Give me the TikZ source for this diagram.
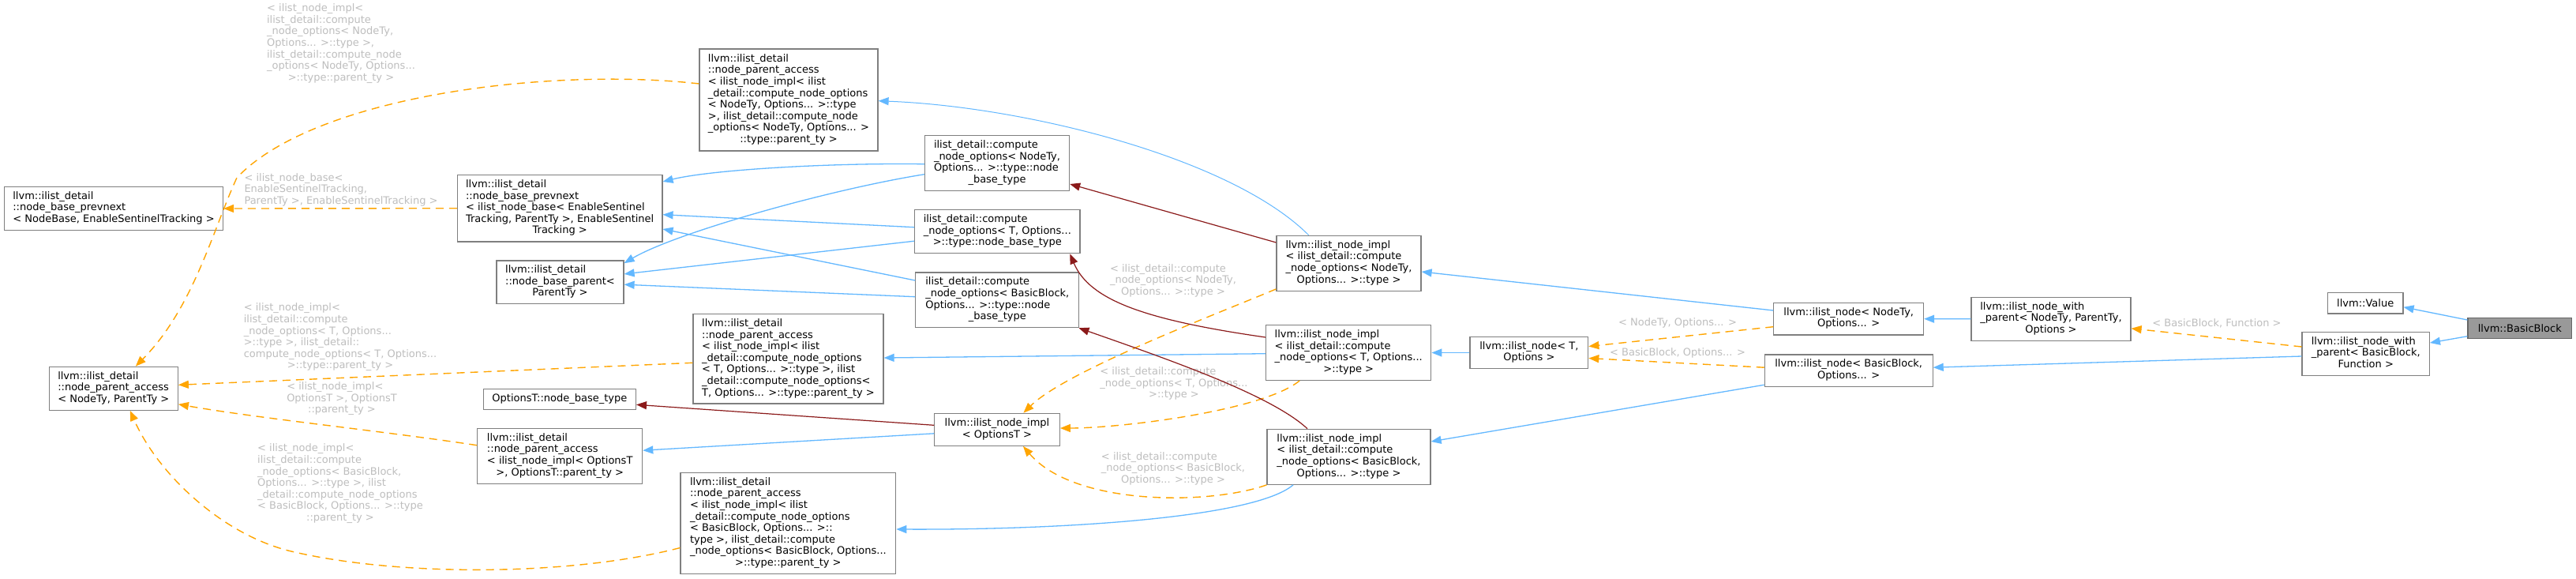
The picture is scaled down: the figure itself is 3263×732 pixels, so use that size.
\documentclass[tikz,border=0pt]{standalone}
\usepackage{fontspec}
\setmainfont{DejaVu Sans}
\usetikzlibrary{arrows.meta,calc}
\definecolor{edgeblue}{HTML}{63B8FF}
\definecolor{edgered}{HTML}{8B1A1A}
\definecolor{edgeorange}{HTML}{FFA500}
\definecolor{boxborder}{HTML}{7F7F7F}
\definecolor{lblgray}{HTML}{BEBEBE}
\definecolor{bbfill}{HTML}{999999}
\newcommand{\mytab}[1]{\begin{tabular}{@{}l@{}}#1\end{tabular}}
\newcommand{\lastc}[1]{\multicolumn{1}{@{}c@{}}{#1}}
\tikzset{
  cls/.style={draw=boxborder, line width=1.2pt, fill=white, inner sep=0pt,
    font=\fontsize{13}{14.6}\selectfont, text=black},
  lbl/.style={inner sep=0pt, font=\fontsize{13}{14.6}\selectfont, text=lblgray},
  tip/.style={-{Triangle[length=13pt,width=10pt]}},
  pub/.style={draw=edgeblue, line width=1.3pt, tip},
  pubthin/.style={draw=edgeblue, line width=1pt, tip},
  priv/.style={draw=edgered, line width=1.2pt, tip},
  tmpl/.style={draw=edgeorange, line width=1.4pt, dash pattern=on 10pt off 7pt, tip},
}
\begin{document}
\begin{tikzpicture}[x=1pt,y=-1pt]
\useasboundingbox[fill=white] (0,0) rectangle (3263,732);

% ---- class nodes ----
\node[cls, minimum width=277pt, minimum height=55pt] (A) at (144,264)
  {\mytab{llvm::ilist\_detail\\::node\_base\_prevnext\\\lastc{< NodeBase, EnableSentinelTracking >}}};
\node[cls, minimum width=226pt, minimum height=129pt] (B) at (999,126.5)
  {\mytab{llvm::ilist\_detail\\::node\_parent\_access\\< ilist\_node\_impl< ilist\\\_detail::compute\_node\_options\\< NodeTy, Options... >::type\\>, ilist\_detail::compute\_node\\\_options< NodeTy, Options... >\\\lastc{::type::parent\_ty >}}};
\node[cls, minimum width=259.5pt, minimum height=84.7pt] (C) at (709.2,263.7)
  {\mytab{llvm::ilist\_detail\\::node\_base\_prevnext\\< ilist\_node\_base< EnableSentinel\\Tracking, ParentTy >, EnableSentinel\\\lastc{Tracking >}}};
\node[cls, minimum width=161pt, minimum height=54.3pt] (D) at (709.5,357.2)
  {\mytab{llvm::ilist\_detail\\::node\_base\_parent<\\\lastc{ParentTy >}}};
\node[cls, minimum width=163pt, minimum height=55pt] (E) at (143.8,491.8)
  {\mytab{llvm::ilist\_detail\\::node\_parent\_access\\\lastc{< NodeTy, ParentTy >}}};
\node[cls, minimum width=241pt, minimum height=113.3pt] (F) at (998.5,454.3)
  {\mytab{llvm::ilist\_detail\\::node\_parent\_access\\< ilist\_node\_impl< ilist\\\_detail::compute\_node\_options\\< T, Options... >::type >, ilist\\\_detail::compute\_node\_options<\\\lastc{T, Options... >::type::parent\_ty >}}};
\node[cls, minimum width=193pt, minimum height=26pt] (G) at (708.9,505.3)
  {OptionsT::node\_base\_type};
\node[cls, minimum width=209pt, minimum height=70pt] (H) at (709.2,577.2)
  {\mytab{llvm::ilist\_detail\\::node\_parent\_access\\< ilist\_node\_impl< OptionsT\\\lastc{>, OptionsT::parent\_ty >}}};
\node[cls, minimum width=272.7pt, minimum height=128.4pt] (I) at (998.4,662.5)
  {\mytab{llvm::ilist\_detail\\::node\_parent\_access\\< ilist\_node\_impl< ilist\\\_detail::compute\_node\_options\\< BasicBlock, Options... >::\\type >, ilist\_detail::compute\\\_node\_options< BasicBlock, Options...\\\lastc{>::type::parent\_ty >}}};
\node[cls, minimum width=183.2pt, minimum height=69.6pt] (J) at (1263,206.5)
  {\mytab{ilist\_detail::compute\\\_node\_options< NodeTy,\\Options... >::type::node\\\lastc{\_base\_type}}};
\node[cls, minimum width=209.2pt, minimum height=55pt] (K) at (1263.3,293.2)
  {\mytab{ilist\_detail::compute\\\_node\_options< T, Options...\\\lastc{>::type::node\_base\_type}}};
\node[cls, minimum width=207.1pt, minimum height=69.7pt] (L) at (1263.3,379.8)
  {\mytab{ilist\_detail::compute\\\_node\_options< BasicBlock,\\Options... >::type::node\\\lastc{\_base\_type}}};
\node[cls, minimum width=158.6pt, minimum height=41pt] (M) at (1263,543.8)
  {\mytab{llvm::ilist\_node\_impl\\\lastc{< OptionsT >}}};
\node[cls, minimum width=183pt, minimum height=70pt] (N) at (1708.5,333.3)
  {\mytab{llvm::ilist\_node\_impl\\< ilist\_detail::compute\\\_node\_options< NodeTy,\\\lastc{Options... >::type >}}};
\node[cls, minimum width=209.2pt, minimum height=69.6pt] (O) at (1708.2,446.5)
  {\mytab{llvm::ilist\_node\_impl\\< ilist\_detail::compute\\\_node\_options< T, Options...\\\lastc{>::type >}}};
\node[cls, minimum width=207pt, minimum height=70pt] (P) at (1708.5,578.3)
  {\mytab{llvm::ilist\_node\_impl\\< ilist\_detail::compute\\\_node\_options< BasicBlock,\\\lastc{Options... >::type >}}};
\node[cls, minimum width=149.7pt, minimum height=40.4pt] (Q) at (1936.9,446.5)
  {\mytab{llvm::ilist\_node< T,\\\lastc{Options >}}};
\node[cls, minimum width=189.8pt, minimum height=40.7pt] (R) at (2341.7,403.7)
  {\mytab{llvm::ilist\_node< NodeTy,\\\lastc{Options... >}}};
\node[cls, minimum width=212.8pt, minimum height=40.3pt] (S) at (2341.7,469.2)
  {\mytab{llvm::ilist\_node< BasicBlock,\\\lastc{Options... >}}};
\node[cls, minimum width=202pt, minimum height=55pt] (T) at (2598,403.8)
  {\mytab{llvm::ilist\_node\_with\\\_parent< NodeTy, ParentTy,\\\lastc{Options >}}};
\node[cls, minimum width=95.5pt, minimum height=26.3pt] (U) at (2996.2,383.8)
  {llvm::Value};
\node[cls, minimum width=161.3pt, minimum height=54.6pt] (V) at (2996.7,448)
  {\mytab{llvm::ilist\_node\_with\\\_parent< BasicBlock,\\\lastc{Function >}}};
\node[cls, draw=boxborder!80!black, fill=bbfill, minimum width=131.6pt, minimum height=26pt] (W) at (3191.8,415.7)
  {llvm::BasicBlock};

% ---- edge labels ----
\node[lbl] (lB) at (432,55.5)
  {\mytab{< ilist\_node\_impl<\\ilist\_detail::compute\\\_node\_options< NodeTy,\\Options... >::type >,\\ilist\_detail::compute\_node\\\_options< NodeTy, Options...\\\lastc{>::type::parent\_ty >}}};
\node[lbl] (lC) at (432,241)
  {\mytab{< ilist\_node\_base<\\EnableSentinelTracking,\\\lastc{ParentTy >, EnableSentinelTracking >}}};
\node[lbl] (lF) at (431,427.4)
  {\mytab{< ilist\_node\_impl<\\ilist\_detail::compute\\\_node\_options< T, Options...\\>::type >, ilist\_detail::\\compute\_node\_options< T, Options...\\\lastc{>::type::parent\_ty >}}};
\node[lbl] (lH) at (433,505.3)
  {\mytab{< ilist\_node\_impl<\\OptionsT >, OptionsT\\\lastc{::parent\_ty >}}};
\node[lbl] (lI) at (431,612.8)
  {\mytab{< ilist\_node\_impl<\\ilist\_detail::compute\\\_node\_options< BasicBlock,\\Options... >::type >, ilist\\\_detail::compute\_node\_options\\< BasicBlock, Options... >::type\\\lastc{::parent\_ty >}}};
\node[lbl] (lN) at (1486,355.7)
  {\mytab{< ilist\_detail::compute\\\_node\_options< NodeTy,\\\lastc{Options... >::type >}}};
\node[lbl] (lO) at (1487,486.4)
  {\mytab{< ilist\_detail::compute\\\_node\_options< T, Options...\\\lastc{>::type >}}};
\node[lbl] (lP) at (1486,594)
  {\mytab{< ilist\_detail::compute\\\_node\_options< BasicBlock,\\\lastc{Options... >::type >}}};
\node[lbl] (lR) at (2125,409) {< NodeTy, Options... >};
\node[lbl] (lS) at (2125,447) {< BasicBlock, Options... >};
\node[lbl] (lV) at (2808,409) {< BasicBlock, Function >};

% ---- connectors ----
\draw[pub] ($(W.west)+(0,-10.7)$) -- ($(U.east)+(0,5)$);
\draw[pub] ($(W.west)+(0,10)$) -- ($(V.east)+(0,-14)$);
\draw[tmpl] ($(V.west)+(0,-9)$) -- ($(T.east)+(0,12)$);
\draw[pub] ($(V.west)+(0,3)$) -- ($(S.east)+(0,-4)$);
\draw[pub] (T.west) -- (R.east);
\draw[pub] ($(R.west)+(0,-10.7)$) -- ($(N.east)+(0,10.7)$);
\draw[tmpl] ($(R.west)+(0,10)$) -- ($(Q.east)+(0,-8)$);
\draw[tmpl] ($(S.west)+(0,-4)$) -- ($(Q.east)+(0,7)$);
\draw[pub] ($(S.west)+(0,18)$) -- ($(P.east)+(0,-19.3)$);
\draw[pub] (Q.west) -- (O.east);
\draw[pubthin] ($(N.north)+(-50.8,0)$) .. controls (1560,200) and (1300,135) .. ($(B.east)+(0,1.2)$);
\draw[priv] ($(N.west)+(0,-26.3)$) -- ($(J.east)+(0,26.5)$);
\draw[tmpl] ($(N.south west)+(0,-3)$) .. controls (1540,398) and (1350,470) .. ($(M.north)+(33.4,0)$);
\draw[pub] ($(O.west)+(0,1.2)$) -- ($(F.east)+(0,-1.3)$);
\draw[priv] ($(O.west)+(0,-19.5)$) .. controls (1450,405) and (1380,380) .. ($(K.south)+(92,0)$);
\draw[tmpl] ($(O.south)+(-62,0)$) .. controls (1600,520) and (1420,542) .. ($(M.east)+(0,-1.8)$);
\draw[priv] ($(P.north)+(-52.5,0)$) .. controls (1610,500) and (1480,455) .. ($(L.south east)+(-1,0)$);
\draw[pub] ($(P.south)+(-70.5,0)$) .. controls (1590,655) and (1350,671) .. ($(I.east)+(0,7.5)$);
\draw[tmpl] (P.south west) .. controls (1530,640) and (1360,640) .. ($(M.south)+(33,0)$);
\draw[priv] ($(M.west)+(0,-5.5)$) -- ($(G.east)+(0,7)$);
\draw[pub] ($(M.west)+(0,5)$) -- ($(H.east)+(0,-7)$);
\draw[pub] ($(J.west)+(0,1.2)$) .. controls (1050,206) and (900,215) .. ($(C.east)+(0,-33.7)$);
\draw[pub] ($(J.west)+(0,14.2)$) .. controls (1050,240) and (855,295) .. ($(D.east)+(0,-24)$);
\draw[pub] ($(K.west)+(0,-5.5)$) -- ($(C.east)+(0,8)$);
\draw[pub] ($(K.west)+(0,12)$) -- ($(D.east)+(0,-10.3)$);
\draw[pub] ($(L.west)+(0,-24.8)$) -- ($(C.east)+(0,26.3)$);
\draw[pub] ($(L.west)+(0,-4.1)$) -- ($(D.east)+(0,3)$);
\coordinate (bk1) at (300,225);
\draw[tmpl] ($(B.west)+(0,-20.5)$) .. controls (700,85) and (400,120) .. (bk1) .. controls (270,290) and (245,390) .. ($(E.north)+(28,0)$);
\draw[tmpl] (C.west) -- (A.east);
\draw[tmpl] ($(F.west)+(0,5)$) -- ($(E.east)+(0,-4.5)$);
\draw[tmpl] ($(H.west)+(0,-13.5)$) .. controls (480,545) and (330,530) .. ($(E.east)+(0,20)$);
\coordinate (bk2) at (365,697);
\draw[tmpl] ($(I.west)+(0,31)$) .. controls (720,730) and (500,730) .. (bk2) .. controls (280,675) and (200,600) .. ($(E.south)+(21,0)$);
\end{tikzpicture}
\end{document}
